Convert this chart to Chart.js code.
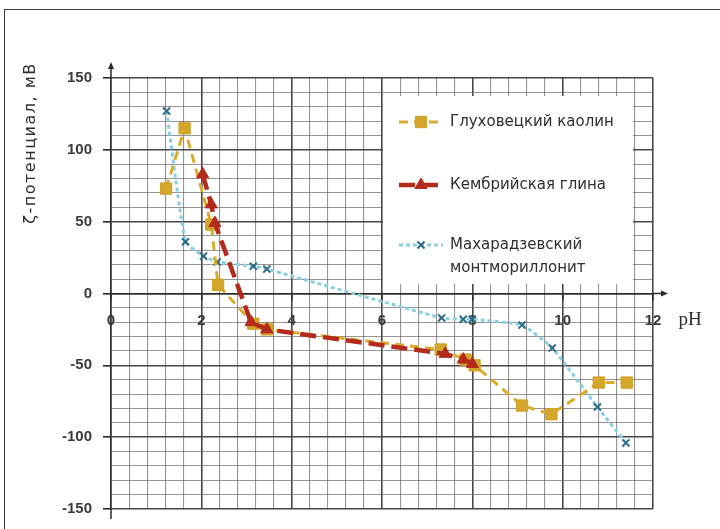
<!DOCTYPE html>
<html>
<head>
<meta charset="utf-8">
<script src="https://cdn.jsdelivr.net/npm/chart.js@4.4.1/dist/chart.umd.min.js"></script>
<style>
  html, body { margin: 0; padding: 0; background: #fff; }
  #wrap { position: relative; width: 720px; height: 529px; overflow: hidden; background: #fff; }
  #frame { position: absolute; left: 4px; top: 9px; width: 800px; height: 600px;
           border-left: 1px solid #3a3a3a; border-top: 1px solid #3a3a3a; }
  #c { position: absolute; left: 0; top: 0; }
</style>
</head>
<body>
<div id="wrap">
  <div id="frame"></div>
  <canvas id="c" width="720" height="529"></canvas>
</div>
<script>
// Series names (legend)
const seriesNames = ['Глуховецкий каолин', 'Кембрийская глина', ['Махарадзевский', 'монтмориллонит']];

// Глуховецкий каолин
const kaolinPH   = [1.22, 1.63, 2.22, 2.37, 3.15, 3.45, 7.3, 7.85, 8.05, 9.1, 9.75, 10.8, 11.42];
const kaolinZeta = [73, 115, 48, 6, -21, -25, -39, -46, -50, -78, -84, -62, -62];

// Кембрийская глина
const clayPH   = [2.03, 2.22, 2.3, 3.1, 3.45, 7.4, 7.8, 8.0];
const clayZeta = [83, 62, 49, -20, -25, -42, -46, -49];

// Махарадзевский монтмориллонит
const montPH   = [1.23, 1.65, 2.05, 2.35, 3.15, 3.45, 7.32, 7.8, 8.0, 9.1, 9.77, 10.77, 11.4];
const montZeta = [127, 36, 26, 22, 19, 17, -17, -18, -18, -22, -38, -79, -104];

// Axis tick labels
const xTickLabels = [0, 2, 4, 6, 8, 10, 12];
const yTickLabels = [150, 100, 50, 0, -50, -100, -150];

const toPoints = (xs, ys) => xs.map((v, i) => ({ x: v, y: ys[i] }));
const near = (v, list) => list.some(t => Math.abs(t - v) < 1e-6);

const majorX = v => Math.abs(v / 2 - Math.round(v / 2)) < 1e-6;
const majorY = v => Math.abs(v / 50 - Math.round(v / 50)) < 1e-6;

const GRID_MINOR = 'rgba(104, 97, 99, 0.68)';
const GRID_MAJOR = '#4a4547';

const datasets = [
  {
    label: seriesNames[0],
    data: toPoints(kaolinPH, kaolinZeta),
    borderColor: '#D8AC2C',
    backgroundColor: '#D4A62A',
    borderWidth: 3,
    borderDash: [9, 6],
    pointStyle: 'rect',
    pointRadius: 8,
    pointBorderWidth: 1,
    pointBorderColor: '#CFA128',
    pointBackgroundColor: '#D4A62A',
    tension: 0,
    order: 1
  },
  {
    label: seriesNames[1],
    data: toPoints(clayPH, clayZeta),
    borderColor: '#B42A1B',
    backgroundColor: '#B42A1B',
    borderWidth: 4.5,
    borderDash: [16, 7],
    pointStyle: 'triangle',
    pointRadius: 7,
    pointBorderWidth: 1,
    pointBorderColor: '#B42A1B',
    pointBackgroundColor: '#B42A1B',
    tension: 0,
    order: 0
  },
  {
    label: seriesNames[2],
    data: toPoints(montPH, montZeta),
    borderColor: '#8ACFE2',
    backgroundColor: '#2F6E86',
    borderWidth: 3,
    borderDash: [4, 3],
    pointStyle: 'crossRot',
    pointRadius: 5,
    pointBorderWidth: 2,
    pointBorderColor: '#2F6E86',
    pointBackgroundColor: '#2F6E86',
    tension: 0.15,
    order: 2
  }
];

// Axis arrows, legend panel and axis titles
const decor = {
  id: 'decor',
  afterDatasetsDraw(chart) {
    const { ctx } = chart;
    const xs = chart.scales.x, ys = chart.scales.y;
    const x0 = xs.getPixelForValue(0), y0 = ys.getPixelForValue(0);
    const yTop = ys.getPixelForValue(150), yBot = ys.getPixelForValue(-150);
    const xEnd = xs.getPixelForValue(12);
    ctx.save();
    ctx.strokeStyle = '#2a2a2a';
    ctx.fillStyle = '#2a2a2a';
    ctx.lineWidth = 1.5;
    ctx.setLineDash([]);
    ctx.beginPath();
    ctx.moveTo(x0, yTop); ctx.lineTo(x0, yTop - 12);
    ctx.moveTo(x0, yBot); ctx.lineTo(x0, yBot + 10);
    ctx.moveTo(xEnd, y0); ctx.lineTo(xEnd + 11, y0);
    ctx.stroke();
    ctx.beginPath();
    ctx.moveTo(x0, yTop - 16); ctx.lineTo(x0 - 3, yTop - 9); ctx.lineTo(x0 + 3, yTop - 9); ctx.closePath();
    ctx.fill();
    ctx.beginPath();
    ctx.moveTo(xEnd + 15, y0); ctx.lineTo(xEnd + 8, y0 - 3); ctx.lineTo(xEnd + 8, y0 + 3); ctx.closePath();
    ctx.fill();

    // legend panel
    const bx = 383, by = 96, bw = 250, bh = 188;
    ctx.fillStyle = '#ffffff';
    ctx.fillRect(bx, by, bw, bh);
    const rows = [122, 185, 245];
    chart.data.datasets.forEach((ds, i) => {
      const cy = rows[i];
      ctx.save();
      ctx.strokeStyle = ds.borderColor;
      ctx.lineWidth = ds.borderWidth;
      ctx.setLineDash(ds.borderDash);
      ctx.beginPath();
      ctx.moveTo(399, cy); ctx.lineTo(443, cy);
      ctx.stroke();
      ctx.setLineDash([]);
      ctx.fillStyle = ds.pointBackgroundColor;
      ctx.strokeStyle = ds.pointBorderColor;
      ctx.lineWidth = ds.pointBorderWidth;
      Chart.helpers.drawPoint(ctx, {
        pointStyle: ds.pointStyle, radius: ds.pointRadius, rotation: 0, borderWidth: ds.pointBorderWidth
      }, 421, cy);
      ctx.restore();
      ctx.fillStyle = '#2e2e2e';
      ctx.font = '15px "DejaVu Sans"';
      ctx.textBaseline = 'middle';
      ctx.textAlign = 'left';
      const lines = Array.isArray(ds.label) ? ds.label : [ds.label];
      lines.forEach((t, k) => ctx.fillText(t, 450, cy + k * 23));
    });
    ctx.restore();
  },
  afterDraw(chart) {
    const { ctx } = chart;
    ctx.save();
    ctx.fillStyle = '#2e2e2e';
    // y axis title
    ctx.translate(31, 143);
    ctx.rotate(-Math.PI / 2);
    ctx.font = '16px "DejaVu Sans"';
    if ('letterSpacing' in ctx) ctx.letterSpacing = '1.5px';
    ctx.textAlign = 'center';
    ctx.textBaseline = 'middle';
    ctx.fillText('ζ-потенциал, мВ', 0, 0);
    ctx.restore();
    // x axis title
    ctx.save();
    ctx.fillStyle = '#2e2e2e';
    ctx.font = '19px "Liberation Serif"';
    ctx.textAlign = 'center';
    ctx.textBaseline = 'middle';
    ctx.fillText('pH', 690, 320);
    ctx.restore();
  }
};

new Chart(document.getElementById('c'), {
  type: 'scatter',
  data: { datasets },
  plugins: [decor],
  options: {
    responsive: false,
    animation: false,
    events: [],
    layout: { padding: { left: 0, top: 78, right: 67, bottom: 19 } },
    showLine: true,
    plugins: { legend: { display: false }, tooltip: { enabled: false } },
    scales: {
      x: {
        type: 'linear',
        min: 0, max: 12,
        position: { y: 0 },
        border: { display: true, color: '#2a2a2a', width: 1.5 },
        grid: {
          color: c => majorX(c.tick.value) ? GRID_MAJOR : GRID_MINOR,
          lineWidth: c => majorX(c.tick.value) ? 1.6 : 1.1,
          drawTicks: true,
          tickLength: 6,
          tickColor: c => majorX(c.tick.value) ? '#2a2a2a' : 'rgba(0,0,0,0)'
        },
        ticks: {
          stepSize: 0.4,
          autoSkip: false,
          maxRotation: 0,
          padding: 12,
          color: '#3a3a3a',
          font: { family: '"Liberation Sans", Arial', size: 15, weight: 'bold' },
          callback: v => near(v, xTickLabels) ? String(Math.round(v)) : ''
        }
      },
      y: {
        type: 'linear',
        min: -150, max: 150,
        position: 'left',
        afterFit: s => { s.width = 111; },
        border: { display: true, color: '#2a2a2a', width: 1.5 },
        grid: {
          color: c => majorY(c.tick.value) ? GRID_MAJOR : GRID_MINOR,
          lineWidth: c => majorY(c.tick.value) ? 1.6 : 1.1,
          drawTicks: true,
          tickLength: 8,
          tickColor: c => majorY(c.tick.value) ? '#2a2a2a' : 'rgba(0,0,0,0)'
        },
        ticks: {
          stepSize: 10,
          autoSkip: false,
          padding: 11,
          color: '#3a3a3a',
          font: { family: '"Liberation Sans", Arial', size: 15, weight: 'bold' },
          callback: v => near(v, yTickLabels) ? String(Math.round(v)) : ''
        }
      }
    }
  }
});
</script>
</body>
</html>
